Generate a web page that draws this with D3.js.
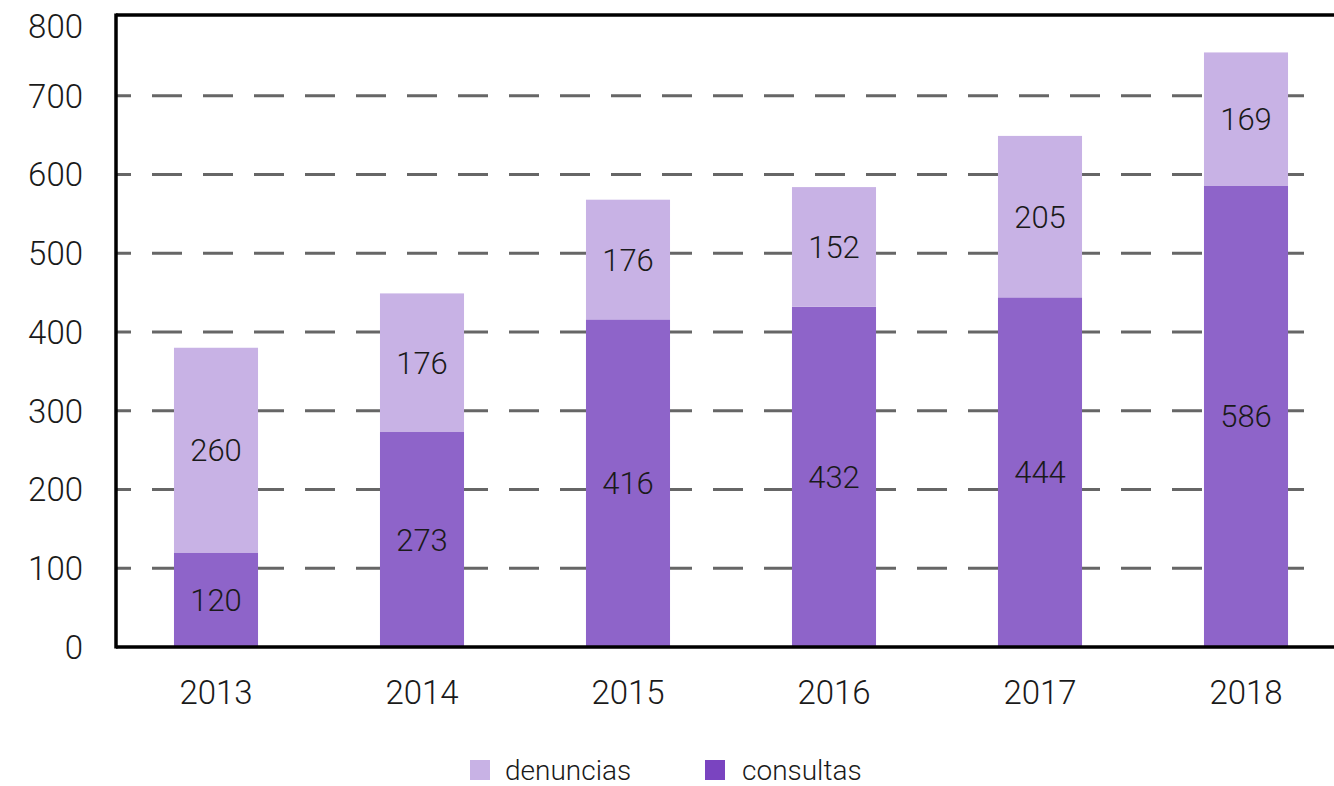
<!DOCTYPE html>
<html>
<head>
<meta charset="utf-8">
<script src="https://cdn.jsdelivr.net/npm/d3@7"></script>
<style>
    body { margin: 0; background: #fff; }
    svg { display: block; font-family: Roboto, "Open Sans", sans-serif; }
</style>
</head>
<body>
<svg id="chart" width="1334" height="786"></svg>
<script>
; (function () {

    var years = ["2013", "2014", "2015", "2016", "2017", "2018"]
    var consultas = [120, 273, 416, 432, 444, 586]
    // bar heights as drawn (the 2015 segment is drawn shorter than its label)
    var denuncias = [260, 176, 152, 152, 205, 169]
    var denunciasLabels = [260, 176, 176, 152, 205, 169]
    var yTicks = [0, 100, 200, 300, 400, 500, 600, 700, 800]

    var colors = { consultas: "#8e64c9", denuncias: "#c8b2e5" }
    var legendColors = { consultas: "#7a44c0", denuncias: "#c8b2e5" }

    var svg = d3.select("#chart")

    var rows = years.map(function (y, i) {
        return { year: y, consultas: consultas[i], denuncias: denuncias[i], denunciasLabel: denunciasLabels[i] }
    })
    var series = d3.stack().keys(["consultas", "denuncias"])(rows)

    var x = d3.scaleBand().domain(years).range([113, 1349])
        .paddingInner(0.592).paddingOuter(0.296)
    var y = d3.scaleLinear().domain([0, 800]).range([647, 17])

    var left = 116, gridRight = 1318

    // dashed grid
    svg.append("g").selectAll("line")
        .data(yTicks.filter(function (t) { return t > 0 && t < 800 }))
        .enter().append("line")
        .attr("x1", left).attr("x2", gridRight)
        .attr("y1", function (d) { return y(d) }).attr("y2", function (d) { return y(d) })
        .attr("stroke", "#666").attr("stroke-width", 3)
        .attr("stroke-dasharray", "30,21").attr("stroke-dashoffset", 15)

    // bars
    svg.append("g").selectAll("g")
        .data(series)
        .enter().append("g")
        .attr("fill", function (s) { return colors[s.key] })
        .selectAll("rect")
        .data(function (s) { return s })
        .enter().append("rect")
        .attr("x", function (d) { return x(d.data.year) })
        .attr("width", x.bandwidth())
        .attr("y", function (d) { return y(d[1]) })
        .attr("height", function (d) { return y(d[0]) - y(d[1]) })

    // value labels
    series.forEach(function (s) {
        svg.append("g").selectAll("text")
            .data(s)
            .enter().append("text")
            .attr("x", function (d) { return x(d.data.year) + x.bandwidth() / 2 })
            .attr("y", function (d) { return (y(d[0]) + y(d[1])) / 2 })
            .attr("dy", "0.36em")
            .attr("text-anchor", "middle")
            .attr("font-size", 31)
            .attr("font-weight", 300)
            .attr("fill", "#1a1a1a")
            .text(function (d) { return s.key === "denuncias" ? d.data.denunciasLabel : d.data.consultas })
    })

    // frame: top, left, bottom
    svg.append("line").attr("x1", left).attr("x2", 1334).attr("y1", 15).attr("y2", 15)
        .attr("stroke", "#000").attr("stroke-width", 3.5)
    svg.append("line").attr("x1", left).attr("x2", left).attr("y1", 13.5).attr("y2", 648.5)
        .attr("stroke", "#000").attr("stroke-width", 3.5)
    svg.append("line").attr("x1", left).attr("x2", 1334).attr("y1", 647).attr("y2", 647)
        .attr("stroke", "#000").attr("stroke-width", 3.5)

    // y tick labels
    svg.append("g").selectAll("text")
        .data(yTicks)
        .enter().append("text")
        .attr("x", 83)
        .attr("y", function (d) { return y(d) + (d === 800 ? 9 : 0) })
        .attr("dy", "0.36em")
        .attr("text-anchor", "end")
        .attr("font-size", 33)
        .attr("font-weight", 300)
        .attr("fill", "#1a1a1a")
        .text(function (d) { return d })

    // x labels
    svg.append("g").selectAll("text")
        .data(years)
        .enter().append("text")
        .attr("x", function (d) { return x(d) + x.bandwidth() / 2 })
        .attr("y", 692)
        .attr("dy", "0.36em")
        .attr("text-anchor", "middle")
        .attr("font-size", 33)
        .attr("font-weight", 300)
        .attr("fill", "#1a1a1a")
        .text(function (d) { return d })

    // legend
    var legend = [
        { key: "denuncias", x: 470 },
        { key: "consultas", x: 705 }
    ]
    var lg = svg.append("g").selectAll("g").data(legend).enter().append("g")
    lg.append("rect")
        .attr("x", function (d) { return d.x }).attr("y", 760)
        .attr("width", 20).attr("height", 20)
        .attr("fill", function (d) { return legendColors[d.key] })
    lg.append("text")
        .attr("x", function (d) { return d.x + (d.key === "denuncias" ? 35 : 37) })
        .attr("y", 780)
        .attr("font-size", 28)
        .attr("font-weight", 300)
        .attr("fill", "#1a1a1a")
        .text(function (d) { return d.key })

})();
</script>
</body>
</html>
